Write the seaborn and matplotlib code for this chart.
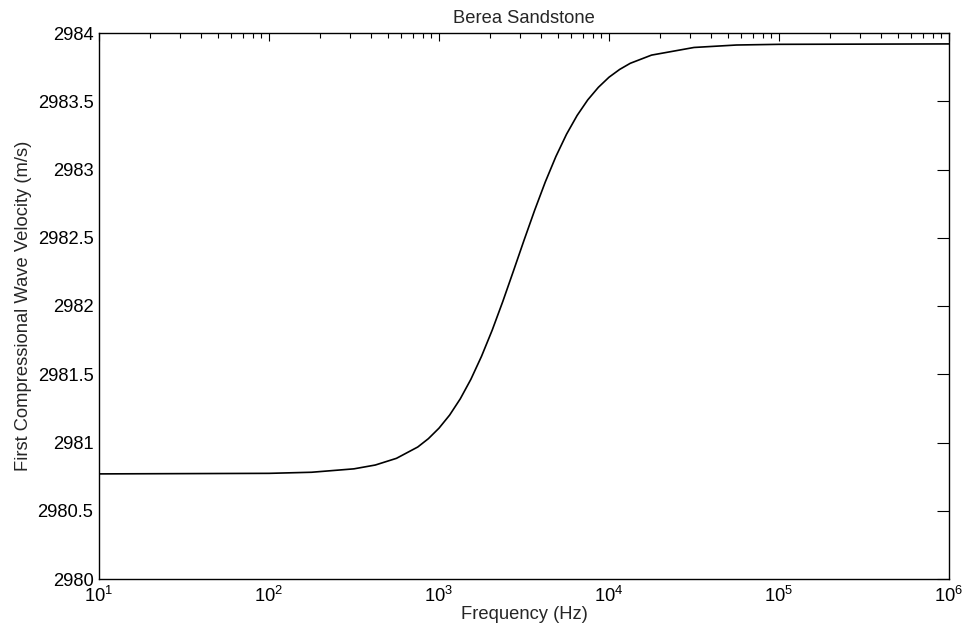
import numpy as np
import pandas as pd
import matplotlib
matplotlib.use("Agg")
import matplotlib.pyplot as plt
import matplotlib.ticker as mticker
import seaborn as sns

# Data
frequency_hz = [10, 100, 178, 316, 422, 562, 750, 866, 1000, 1155, 1334, 1540,
                1778, 2054, 2371, 2738, 3162, 3652, 4217, 4870, 5623, 6494,
                7499, 8660, 10000, 11548, 13335, 17783, 31623, 56234, 100000,
                1000000]
velocity_ms = [2980.77, 2980.774, 2980.782, 2980.807, 2980.835, 2980.884,
               2980.967, 2981.028, 2981.105, 2981.201, 2981.320, 2981.463,
               2981.631, 2981.822, 2982.032, 2982.255, 2982.481, 2982.701,
               2982.908, 2983.095, 2983.258, 2983.396, 2983.510, 2983.602,
               2983.676, 2983.733, 2983.778, 2983.838, 2983.894, 2983.912,
               2983.917, 2983.92]
y_ticks = [2980, 2980.5, 2981, 2981.5, 2982, 2982.5, 2983, 2983.5, 2984]

title = "Berea Sandstone"
xlabel = "Frequency (Hz)"
ylabel = "First Compressional Wave Velocity (m/s)"

sns.set_theme(style="white")
plt.rcParams["font.family"] = ["Liberation Sans", "DejaVu Sans"]
plt.rcParams["mathtext.fontset"] = "custom"
plt.rcParams["mathtext.rm"] = "Liberation Sans"
plt.rcParams["mathtext.it"] = "Liberation Sans"

fig = plt.figure(figsize=(9.64, 6.30), dpi=100)
ax = fig.add_axes([99 / 964, (630 - 579) / 630, 850 / 964, 546 / 630])
ax.set_xscale("log")

df = pd.DataFrame({"f": frequency_hz, "v": velocity_ms})
sns.lineplot(data=df, x="f", y="v", ax=ax, color="black", linewidth=1.2,
             estimator=None, sort=False)

ax.set_xlim(10, 1e6)
ax.set_ylim(2980, 2984)
ax.set_yticks(y_ticks)
ax.yaxis.set_major_formatter(mticker.FuncFormatter(lambda v, p: "%g" % v))
ax.xaxis.set_major_locator(mticker.LogLocator(base=10, numticks=10))
ax.xaxis.set_minor_locator(mticker.LogLocator(base=10, subs=np.arange(2, 10), numticks=20))

fs = 13.2
ax.set_title(title, fontsize=fs, pad=7)
ax.set_xlabel(xlabel, fontsize=fs, labelpad=0)
ax.set_ylabel(ylabel, fontsize=fs, labelpad=4)

for s in ax.spines.values():
    s.set_color("black")
    s.set_linewidth(1.0)

ax.tick_params(axis="both", which="both", direction="in", top=True, right=True,
               colors="black", labelsize=fs)
ax.tick_params(axis="x", which="major", length=6, width=0.8, pad=5)
ax.tick_params(axis="x", which="minor", length=3.5, width=0.8)
ax.tick_params(axis="y", which="major", length=9, width=0.8, pad=4)
ax.tick_params(axis="y", which="minor", left=False, right=False)

fig.savefig("out.png", dpi=100, facecolor="white")
